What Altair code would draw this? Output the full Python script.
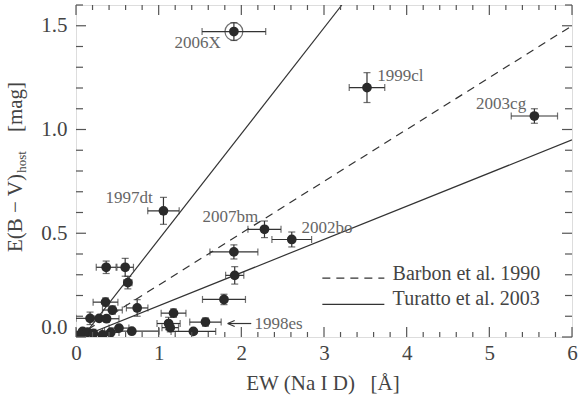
import altair as alt
import pandas as pd

FONT = "'Liberation Serif', 'Times New Roman', Times, serif"
W, H = 496, 332
INK = "#2a2a2a"
GRAY = "#666666"
NB = "\u00a0"

# ---- data ----
ew      = [1.91, 3.52, 5.545, 1.058, 2.28, 2.61, 1.91, 1.92, 1.79, 1.18, 1.566, 1.12, 1.14, 1.42, 0.675,
           0.365, 0.595, 0.627, 0.357, 0.44, 0.74, 0.17, 0.28, 0.37, 0.08, 0.14, 0.21, 0.42, 0.52, 0.32, 0.05]
ew_err  = [0.385, 0.215, 0.28, 0.19, 0.20, 0.24, 0.29, 0.11, 0.26, 0.15, 0.19, 0.14, 0.10, 0.27, 0.33,
           0.12, 0.10, 0.05, 0.15, 0.12, 0.13, 0.17, 0.10, 0.15, 0.08, 0.10, 0.10, 0.10, 0.12, 0.10, 0.05]
ebv     = [1.472, 1.202, 1.065, 0.608, 0.519, 0.47, 0.41, 0.297, 0.181, 0.115, 0.072, 0.065, 0.045, 0.027, 0.028,
           0.336, 0.336, 0.262, 0.168, 0.13, 0.14, 0.09, 0.09, 0.088, 0.027, 0.023, 0.017, 0.022, 0.043, 0.01, 0.01]
ebv_err = [0.043, 0.072, 0.035, 0.065, 0.04, 0.036, 0.034, 0.042, 0.025, 0.02, 0.02, 0.03, 0.02, 0.0, 0.0,
           0.03, 0.043, 0.03, 0.02, 0.02, 0.04, 0.03, 0.0, 0.0, 0.0, 0.0, 0.0, 0.0, 0.0, 0.0, 0.0]

# highlighted SN 2006X
hl_ew, hl_ebv = [1.91], [1.472]

# SN name labels
lab_left_text = ["1999cl", "2003cg", "1997dt", "2007bm", "2002bo", "1998es"]
lab_left_x    = [3.645, 4.84, 0.357, 1.53, 2.727, 2.158]
lab_left_y    = [1.258, 1.123, 0.669, 0.578, 0.524, 0.065]
lab_right_text = ["2006X"]
lab_right_x    = [1.75]
lab_right_y    = [1.418]

# arrow to 1998es
arrow_x0, arrow_x1, arrow_y = [1.835], [2.12], [0.065]

# reference relations (end points)
fit_name = ["Turatto upper", "Barbon et al. 1990", "Turatto lower"]
fit_x0 = [0.08, 0.0, 0.06]
fit_y0 = [0.0, 0.0, 0.0]
fit_x1 = [3.216, 6.0, 6.0]
fit_y1 = [1.6, 1.5, 0.95]

# legend
leg_text = ["Barbon et al. 1990", "Turatto et al. 2003"]
leg_x0 = [2.98, 2.98]
leg_x1 = [3.73, 3.73]
leg_y  = [0.284, 0.157]
leg_tx = [3.83, 3.83]
leg_ty = [0.302, 0.181]

# axis ticks
x_major = [0, 1, 2, 3, 4, 5, 6]
x_minor = [0.2, 0.4, 0.6, 0.8, 1.2, 1.4, 1.6, 1.8, 2.2, 2.4, 2.6, 2.8, 3.2, 3.4, 3.6, 3.8,
           4.2, 4.4, 4.6, 4.8, 5.2, 5.4, 5.6, 5.8]
y_major = [0.0, 0.5, 1.0, 1.5]
y_minor = [0.1, 0.2, 0.3, 0.4, 0.6, 0.7, 0.8, 0.9, 1.1, 1.2, 1.3, 1.4, 1.6]

# ---- tables ----
pts = pd.DataFrame({"x": ew, "xe": ew_err, "y": ebv, "ye": ebv_err})
pts["xlo"] = pts["x"] - pts["xe"]
pts["xhi"] = pts["x"] + pts["xe"]
pts["ylo"] = pts["y"] - pts["ye"]
pts["yhi"] = pts["y"] + pts["ye"]
pts_y = pts[pts["ye"] > 0]

xs = alt.Scale(domain=[0, 6], nice=False, zero=False)
ys = alt.Scale(domain=[0, 1.6], nice=False, zero=False)
xax = alt.Axis(values=x_major, format="d", ticks=False, domain=False, grid=False, title=None,
               labelFont=FONT, labelFontSize=21, labelColor="#444444", labelPadding=5, labelFlush=False)
yax = alt.Axis(values=y_major, format=".1f", ticks=False, domain=False, grid=False, title=None,
               labelFont=FONT, labelFontSize=21, labelColor="#444444", labelPadding=9, labelFlush=True)


def X(f):
    return alt.X(f + ":Q", scale=xs, axis=xax)


def Y(f):
    return alt.Y(f + ":Q", scale=ys, axis=yax)


fits = pd.DataFrame({"name": fit_name, "x0": fit_x0, "y0": fit_y0, "x1": fit_x1, "y1": fit_y1})
solid_fits = alt.Chart(fits[fits["name"] != "Barbon et al. 1990"]).mark_rule(
    color="#333333", strokeWidth=1.2, clip=True).encode(x=X("x0"), y=Y("y0"), x2="x1:Q", y2="y1:Q")
dash_fit = alt.Chart(fits[fits["name"] == "Barbon et al. 1990"]).mark_rule(
    color="#333333", strokeWidth=1.2, strokeDash=[8, 6], clip=True).encode(x=X("x0"), y=Y("y0"), x2="x1:Q", y2="y1:Q")

base = alt.Chart(pts)
xerr = base.mark_rule(color="#333333", strokeWidth=1.2, clip=True).encode(x=X("xlo"), x2="xhi:Q", y=Y("y"))
xcap_lo = base.mark_tick(orient="vertical", size=7, thickness=1.2, color="#333333", clip=True).encode(x=X("xlo"), y=Y("y"))
xcap_hi = base.mark_tick(orient="vertical", size=7, thickness=1.2, color="#333333", clip=True).encode(x=X("xhi"), y=Y("y"))
basey = alt.Chart(pts_y)
yerr = basey.mark_rule(color="#333333", strokeWidth=1.2, clip=True).encode(x=X("x"), y=Y("ylo"), y2="yhi:Q")
ycap_lo = basey.mark_tick(orient="horizontal", size=7, thickness=1.2, color="#333333", clip=True).encode(x=X("x"), y=Y("ylo"))
ycap_hi = basey.mark_tick(orient="horizontal", size=7, thickness=1.2, color="#333333", clip=True).encode(x=X("x"), y=Y("yhi"))
dots = base.mark_circle(size=95, color=INK, opacity=1, clip=True).encode(x=X("x"), y=Y("y"))

ring = alt.Chart(pd.DataFrame({"x": hl_ew, "y": hl_ebv})).mark_point(
    shape="circle", size=320, filled=False, color="#333333", strokeWidth=1.2).encode(x=X("x"), y=Y("y"))

labL = alt.Chart(pd.DataFrame({"t": lab_left_text, "x": lab_left_x, "y": lab_left_y})).mark_text(
    font=FONT, fontSize=17, color=GRAY, align="left", baseline="middle").encode(x=X("x"), y=Y("y"), text="t:N")
labR = alt.Chart(pd.DataFrame({"t": lab_right_text, "x": lab_right_x, "y": lab_right_y})).mark_text(
    font=FONT, fontSize=17, color=GRAY, align="right", baseline="middle").encode(x=X("x"), y=Y("y"), text="t:N")

arr = pd.DataFrame({"x0": arrow_x0, "x1": arrow_x1, "y": arrow_y})
arrow_shaft = alt.Chart(arr).mark_rule(color="#333333", strokeWidth=1.2).encode(x=X("x0"), x2="x1:Q", y=Y("y"))
arrow_head = alt.Chart(arr).mark_point(shape="M 0 0 L 1.4 -0.6 M 0 0 L 1.4 0.6", size=100, filled=False,
                                       color="#333333", strokeWidth=1.2, opacity=1).encode(x=X("x0"), y=Y("y"))

leg = pd.DataFrame({"t": leg_text, "x0": leg_x0, "x1": leg_x1, "y": leg_y, "tx": leg_tx, "ty": leg_ty})
leg_dash = alt.Chart(leg.iloc[[0]]).mark_rule(color="#333333", strokeWidth=1.2, strokeDash=[8, 6]).encode(
    x=X("x0"), x2="x1:Q", y=Y("y"))
leg_solid = alt.Chart(leg.iloc[[1]]).mark_rule(color="#333333", strokeWidth=1.2).encode(
    x=X("x0"), x2="x1:Q", y=Y("y"))
leg_txt = alt.Chart(leg).mark_text(font=FONT, fontSize=20, color="#444444", align="left", baseline="middle").encode(
    x=X("tx"), y=Y("ty"), text="t:N")

# inward axis ticks on all four sides
TK = dict(color="#555555", strokeWidth=1.2)
xmaj = alt.Chart(pd.DataFrame({"v": x_major}))
xmin = alt.Chart(pd.DataFrame({"v": x_minor}))
ymaj = alt.Chart(pd.DataFrame({"v": y_major}))
ymin = alt.Chart(pd.DataFrame({"v": y_minor}))
ticks = [
    xmaj.mark_rule(**TK).encode(x=X("v"), y=alt.value(H), y2=alt.value(H - 10)),
    xmaj.mark_rule(**TK).encode(x=X("v"), y=alt.value(0), y2=alt.value(10)),
    xmin.mark_rule(**TK).encode(x=X("v"), y=alt.value(H), y2=alt.value(H - 5)),
    xmin.mark_rule(**TK).encode(x=X("v"), y=alt.value(0), y2=alt.value(5)),
    ymaj.mark_rule(**TK).encode(y=Y("v"), x=alt.value(0), x2=alt.value(10)),
    ymaj.mark_rule(**TK).encode(y=Y("v"), x=alt.value(W), x2=alt.value(W - 10)),
    ymin.mark_rule(**TK).encode(y=Y("v"), x=alt.value(0), x2=alt.value(7)),
    ymin.mark_rule(**TK).encode(y=Y("v"), x=alt.value(W), x2=alt.value(W - 7)),
]

# axis titles
TT = dict(font=FONT, color="#444444")
xtitle = alt.Chart(pd.DataFrame({"t": ["EW (Na I D)" + NB * 3 + "[Å]"]})).mark_text(
    fontSize=21, align="center", baseline="middle", **TT).encode(x=alt.value(247), y=alt.value(379), text="t:N")
yt1 = alt.Chart(pd.DataFrame({"t": ["E(B − V)"]})).mark_text(
    fontSize=21, angle=270, align="center", baseline="middle", **TT).encode(x=alt.value(-60), y=alt.value(208), text="t:N")
yt2 = alt.Chart(pd.DataFrame({"t": ["host"]})).mark_text(
    fontSize=13, angle=270, align="center", baseline="middle", **TT).encode(x=alt.value(-54), y=alt.value(157), text="t:N")
yt3 = alt.Chart(pd.DataFrame({"t": ["[mag]"]})).mark_text(
    fontSize=21, angle=270, align="center", baseline="middle", **TT).encode(x=alt.value(-60), y=alt.value(102), text="t:N")

chart = alt.layer(
    solid_fits, dash_fit, xerr, xcap_lo, xcap_hi, yerr, ycap_lo, ycap_hi, dots, ring,
    labL, labR, arrow_shaft, arrow_head, leg_dash, leg_solid, leg_txt, *ticks, xtitle, yt1, yt2, yt3
).properties(
    width=W, height=H, autosize="none",
    padding={"left": 76, "top": 5, "right": 16, "bottom": 63},
).configure_view(stroke="#555555", strokeWidth=1.5).configure(background="white")

chart.save("out.html", embed_options={"renderer": "svg", "actions": False})
